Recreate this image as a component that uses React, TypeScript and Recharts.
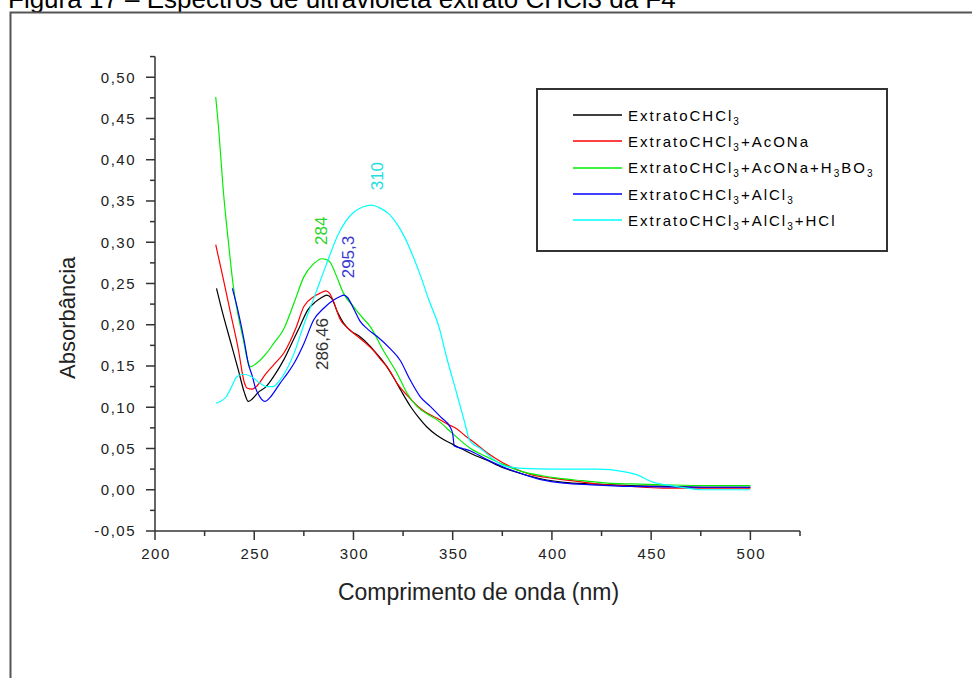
import React from 'react';
import { LineChart, Line, XAxis, YAxis, Legend, ReferenceDot } from 'recharts';

const FONT = 'Arial, "Liberation Sans", sans-serif';

// Espectros UV (nm / absorbância)
const chcl3Nm = [231, 234, 238, 242, 245, 247, 249, 252, 256, 260, 265, 270, 273, 277, 281, 284, 286.5, 289, 292, 295, 299, 303, 308, 312, 316, 320, 324, 329, 333, 337, 342, 346, 350, 355, 360, 367, 375, 384, 395, 406, 420, 440, 460, 480, 500];
const chcl3Abs = [0.244, 0.215, 0.18, 0.145, 0.118, 0.107, 0.11, 0.118, 0.125, 0.138, 0.158, 0.183, 0.198, 0.218, 0.228, 0.233, 0.236, 0.232, 0.215, 0.202, 0.192, 0.186, 0.175, 0.164, 0.152, 0.137, 0.12, 0.1, 0.087, 0.076, 0.066, 0.06, 0.055, 0.049, 0.043, 0.036, 0.027, 0.02, 0.013, 0.009, 0.007, 0.005, 0.004, 0.003, 0.003];

const aconaNm = [230.6, 234, 238, 242, 245, 246.5, 249, 251, 256, 260, 265, 271, 275, 280, 283, 286, 288, 290, 293, 297, 302, 306, 310, 314, 317, 322, 328, 333, 337, 342, 347, 352, 356, 361, 369, 375, 381, 390, 400, 410, 423, 440, 456, 480, 500];
const aconaAbs = [0.297, 0.26, 0.215, 0.17, 0.13, 0.123, 0.122, 0.125, 0.141, 0.152, 0.166, 0.196, 0.222, 0.234, 0.238, 0.241, 0.238, 0.228, 0.208, 0.196, 0.186, 0.178, 0.169, 0.157, 0.149, 0.129, 0.112, 0.1, 0.093, 0.087, 0.08, 0.074, 0.066, 0.057, 0.042, 0.033, 0.026, 0.018, 0.014, 0.011, 0.007, 0.004, 0.002, 0.002, 0.002];

const boricNm = [230.6, 232, 234.4, 237, 239.5, 242, 244.5, 246.5, 248, 251, 256, 260, 264.7, 270, 275, 280, 284, 286.5, 288.2, 291.6, 295, 300, 304, 308.4, 315, 322, 327, 332, 337, 342, 350, 359, 367, 375, 385, 395, 403, 415, 428, 440, 456, 480, 500];
const boricAbs = [0.476, 0.44, 0.363, 0.3, 0.246, 0.21, 0.182, 0.158, 0.149, 0.153, 0.165, 0.178, 0.194, 0.226, 0.258, 0.274, 0.28, 0.279, 0.276, 0.258, 0.238, 0.222, 0.21, 0.198, 0.169, 0.141, 0.117, 0.101, 0.092, 0.085, 0.068, 0.05, 0.04, 0.031, 0.022, 0.017, 0.014, 0.011, 0.008, 0.007, 0.006, 0.005, 0.005];

const alcl3Nm = [239, 242, 245, 247, 249, 250.4, 253, 255.5, 258, 263, 267, 270, 275, 280, 285, 290, 293, 295.3, 297, 300, 303.4, 307, 311.8, 318.5, 323.5, 328.6, 333.6, 338.7, 344, 348.7, 350, 350.8, 355, 359, 366, 375, 384, 395, 406, 420, 440, 473, 500];
const alcl3Abs = [0.244, 0.215, 0.18, 0.153, 0.138, 0.125, 0.112, 0.107, 0.112, 0.129, 0.142, 0.153, 0.177, 0.206, 0.22, 0.23, 0.234, 0.236, 0.233, 0.22, 0.204, 0.195, 0.186, 0.171, 0.157, 0.133, 0.113, 0.101, 0.088, 0.076, 0.068, 0.053, 0.05, 0.047, 0.038, 0.028, 0.02, 0.012, 0.008, 0.006, 0.004, 0.003, 0.003];

const hclNm = [230.8, 233, 236, 239, 241.2, 244.5, 248.7, 252.9, 256.3, 259.6, 262, 265, 270, 275, 280, 284, 287.4, 292, 296, 300, 305, 309, 313, 318, 322, 326, 330, 334, 338, 343, 347, 352, 356, 358.5, 360, 364, 370, 376, 385, 400, 423, 436, 443, 450, 460, 468, 475, 500];
const hclAbs = [0.105, 0.107, 0.113, 0.127, 0.137, 0.14, 0.137, 0.129, 0.125, 0.125, 0.13, 0.14, 0.165, 0.2, 0.232, 0.258, 0.28, 0.308, 0.325, 0.336, 0.343, 0.345, 0.342, 0.334, 0.322, 0.305, 0.283, 0.258, 0.23, 0.198, 0.16, 0.117, 0.082, 0.06, 0.056, 0.05, 0.038, 0.029, 0.026, 0.025, 0.025, 0.022, 0.018, 0.01, 0.005, 0.002, 0, 0];

// eixos
const xMajorTicks = [200, 250, 300, 350, 400, 450, 500];
const xMinorTicks = [225, 275, 325, 375, 425, 475, 525];
const yMajorTicks = [-0.05, 0, 0.05, 0.1, 0.15, 0.2, 0.25, 0.3, 0.35, 0.4, 0.45, 0.5];
const yMinorTicks = [-0.025, 0.025, 0.075, 0.125, 0.175, 0.225, 0.275, 0.325, 0.375, 0.425, 0.475, 0.525];

// picos anotados
const peakNm = [310, 284, 295.3, 286.46];
const peakAbs = [0.345, 0.28, 0.236, 0.236];
const peakLabels = ['310', '284', '295,3', '286,46'];

// estilo das anotações (deslocamento do texto em px, cor)
const peakStyle = [
  { dx: 4, dy: -29, color: '#22dede' },
  { dx: 0, dy: -28, color: '#2ad42a' },
  { dx: 4, dy: -38, color: '#3a3ad0' },
  { dx: -4, dy: 49, color: '#333333' },
];

const series = [
  { key: 'chcl3', label: 'ExtratoCHCl_3', color: '#000000', nm: chcl3Nm, abs: chcl3Abs },
  { key: 'acona', label: 'ExtratoCHCl_3+AcONa', color: '#ff0000', nm: aconaNm, abs: aconaAbs },
  { key: 'boric', label: 'ExtratoCHCl_3+AcONa+H_3BO_3', color: '#00ee00', nm: boricNm, abs: boricAbs },
  { key: 'alcl3', label: 'ExtratoCHCl_3+AlCl_3', color: '#0000ff', nm: alcl3Nm, abs: alcl3Abs },
  { key: 'hcl', label: 'ExtratoCHCl_3+AlCl_3+HCl', color: '#00ffff', nm: hclNm, abs: hclAbs },
];

const isMajor = (list: number[], v: number) => list.some((t) => Math.abs(t - v) < 1e-9);

// "_3" -> subscrito
const renderRich = (label: string) =>
  label.split(/_(\d)/).map((part, i) =>
    i % 2 === 1 ? (
      <sub key={i} style={{ fontSize: 10, verticalAlign: '-4px', lineHeight: 0 }}>{part}</sub>
    ) : (
      <span key={i}>{part}</span>
    )
  );

const XTick = (props: any) => {
  const { x, y, payload } = props;
  const major = isMajor(xMajorTicks, payload.value);
  return (
    <g>
      <line x1={x} x2={x} y1={y} y2={y + (major ? 9 : 5)} stroke="#333" strokeWidth={1.5} />
      {major && (
        <text x={x + 1} y={y + 28} textAnchor="middle" fontSize={15} fill="#222" fontFamily={FONT} style={{ letterSpacing: '1.5px' }}>
          {payload.value}
        </text>
      )}
    </g>
  );
};

const YTick = (props: any) => {
  const { x, y, payload } = props;
  const major = isMajor(yMajorTicks, payload.value);
  return (
    <g>
      <line x1={x - (major ? 9 : 5)} x2={x} y1={y} y2={y} stroke="#333" strokeWidth={1.5} />
      {major && (
        <text x={x - 19} y={y} dy="0.36em" textAnchor="end" fontSize={15} fill="#222" fontFamily={FONT} style={{ letterSpacing: '1.5px' }}>
          {payload.value.toFixed(2).replace('.', ',')}
        </text>
      )}
    </g>
  );
};

const renderLegend = (props: any) => {
  const payload = props.payload || [];
  return (
    <div
      style={{
        boxSizing: 'border-box',
        width: 352,
        height: 164,
        border: '2px solid #333',
        background: '#fff',
        paddingTop: 12,
        fontFamily: FONT,
      }}
    >
      {payload.map((entry: any) => (
        <div key={entry.value} style={{ display: 'flex', alignItems: 'center', height: 26.3 }}>
          <svg width={49} height={4} style={{ marginLeft: 35, marginRight: 6, flex: 'none' }}>
            <line x1={0} x2={49} y1={2} y2={2} stroke={entry.color} strokeWidth={1.5} />
          </svg>
          <span style={{ fontSize: 15, letterSpacing: '2px', color: '#000', whiteSpace: 'nowrap' }}>
            {renderRich(entry.value)}
          </span>
        </div>
      ))}
    </div>
  );
};

const peakShape = (i: number) => (p: any) => {
  const { cx, cy } = p;
  const s = peakStyle[i];
  const tx = cx + s.dx;
  const ty = cy + s.dy;
  return (
    <text
      x={tx}
      y={ty}
      textAnchor="middle"
      dominantBaseline="central"
      fontSize={17}
      fontFamily={FONT}
      fill={s.color}
      transform={`rotate(-90, ${tx}, ${ty})`}
    >
      {peakLabels[i]}
    </text>
  );
};

const yTitle = (p: any) => {
  const vb = p && p.viewBox ? p.viewBox : { x: 95, y: 56.6, width: 60, height: 474.4 };
  const x = vb.x - 27;
  const y = vb.y + vb.height / 2 + 24;
  return (
    <text x={x} y={y} textAnchor="middle" dominantBaseline="central" fontSize={22} fontFamily={FONT} fill="#222" transform={`rotate(-90, ${x}, ${y})`}>
      Absorbância
    </text>
  );
};

const xTitle = (p: any) => {
  const vb = p && p.viewBox ? p.viewBox : { x: 155, y: 531, width: 645, height: 30 };
  return (
    <text x={vb.x + vb.width / 2 + 1} y={vb.y + 69} textAnchor="middle" fontSize={23} fontFamily={FONT} fill="#222">
      Comprimento de onda (nm)
    </text>
  );
};

export default function App() {
  return (
    <div style={{ position: 'absolute', left: 0, top: 0, width: 972, height: 678, overflow: 'hidden', background: '#fff' }}>
      <svg width={972} height={678} style={{ position: 'absolute', left: 0, top: 0 }}>
        <text x={8} y={8} fontSize={26} fontFamily={FONT} fill="#000">
          Figura 17 – Espectros de ultravioleta extrato CHCl3 da F4
        </text>
        <path d="M10.5,678 L10.5,12.5 L972,12.5" stroke="#555" strokeWidth={2} fill="none" />
      </svg>
      <div style={{ position: 'absolute', left: 0, top: 0 }}>
        <LineChart width={972} height={678} margin={{ top: 56.6, right: 172, bottom: 117, left: 95 }}>
          <XAxis
            type="number"
            dataKey="nm"
            domain={[200, 525]}
            allowDataOverflow
            ticks={[...xMajorTicks, ...xMinorTicks].sort((a, b) => a - b)}
            interval={0}
            tick={<XTick />}
            tickLine={false}
            tickSize={0}
            tickMargin={0}
            axisLine={{ stroke: '#333', strokeWidth: 1.5 }}
            height={30}
            label={xTitle}
          />
          <YAxis
            type="number"
            domain={[-0.05, 0.525]}
            allowDataOverflow
            ticks={[...yMajorTicks, ...yMinorTicks].sort((a, b) => a - b)}
            interval={0}
            tick={<YTick />}
            tickLine={false}
            tickSize={0}
            tickMargin={0}
            axisLine={{ stroke: '#333', strokeWidth: 1.5 }}
            width={60}
            label={yTitle}
          />
          {series.map((s) => (
            <Line
              key={s.key}
              data={s.nm.map((x, i) => ({ nm: x, abs: s.abs[i] }))}
              dataKey="abs"
              name={s.label}
              type="monotone"
              stroke={s.color}
              strokeWidth={1.2}
              dot={false}
              activeDot={false}
              isAnimationActive={false}
              legendType="line"
            />
          ))}
          {peakNm.map((x, i) => (
            <ReferenceDot key={peakLabels[i]} x={x} y={peakAbs[i]} r={1} fill="none" stroke="none" shape={peakShape(i)} />
          ))}
          <Legend
            layout="vertical"
            align="center"
            verticalAlign="middle"
            content={renderLegend}
            wrapperStyle={{ position: 'absolute', left: 536, top: 88, width: 352, height: 164 }}
          />
        </LineChart>
      </div>
    </div>
  );
}
